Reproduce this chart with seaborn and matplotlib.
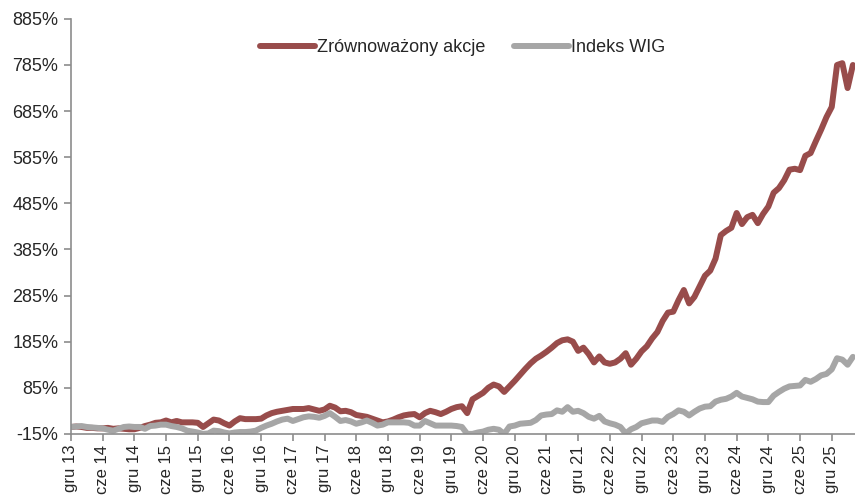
import matplotlib
matplotlib.use("Agg")
import matplotlib.pyplot as plt
import seaborn as sns
import pandas as pd

# monthly values, index 0 = grudzien 2013
zrownowazony = [
    0, 1, 0, -2, -2, -3, -3, -2, -4, -3, -4, -5, -5, -2, 2, 5, 9, 10, 14, 10,
    13, 10, 10, 10, 9, 0, 8, 16, 14, 8, 3, 12, 19, 17, 17, 17, 18, 25, 30, 33,
    35, 37, 39, 39, 39, 41, 38, 35, 38, 46, 42, 34, 35, 32, 26, 24, 22, 18, 14, 10,
    12, 16, 21, 25, 27, 28, 21, 30, 35, 32, 28, 33, 39, 43, 45, 30, 60, 67, 74, 85,
    92, 88, 76, 88, 100, 113, 126, 138, 148, 155, 163, 172, 182, 188, 190, 185, 165, 172, 158, 140,
    153, 140, 137, 140, 148, 160, 135, 148, 164, 175, 192, 206, 230, 248, 250, 275, 297, 268, 282, 305,
    328, 339, 365, 416, 425, 432, 464, 440, 455, 460, 442, 462, 478, 508, 518, 535, 558, 560, 557, 588,
    594, 620, 645, 672, 694, 785, 789, 735, 785,
]
wig = [
    0, 1, 2, 0, -1, -2, -3, -6, -8, -4, 0, 1, 0, 0, -4, 2, 3, 5, 5, 2,
    0, -3, -8, -10, -12, -15, -14, -8, -9, -12, -14, -12, -11, -11, -10, -8, -2, 3, 7, 12,
    16, 18, 13, 17, 21, 23, 22, 20, 24, 30, 22, 13, 15, 12, 7, 10, 14, 9, 3, 5,
    10, 10, 10, 10, 9, 3, 3, 13, 8, 3, 3, 3, 3, 2, 0, -15, -15, -12, -10, -6,
    -4, -6, -15, 1, 3, 7, 8, 9, 15, 25, 27, 28, 36, 33, 43, 33, 35, 30, 22, 18,
    24, 12, 8, 5, 0, -14, -5, 0, 8, 11, 14, 14, 11, 22, 28, 36, 33, 25, 33, 40,
    44, 45, 55, 59, 61, 66, 74, 66, 63, 60, 55, 54, 54, 68, 76, 83, 88, 89, 90, 102,
    98, 104, 112, 115, 125, 149, 146, 135, 152,
]
tick_labels = [
    "gru 13", "cze 14", "gru 14", "cze 15", "gru 15", "cze 16", "gru 16",
    "cze 17", "gru 17", "cze 18", "gru 18", "cze 19", "gru 19", "cze 20",
    "gru 20", "cze 21", "gru 21", "cze 22", "gru 22", "cze 23", "gru 23",
    "cze 24", "gru 24", "cze 25", "gru 25",
]
y_ticks = [-15, 85, 185, 285, 385, 485, 585, 685, 785, 885]

df = pd.DataFrame({
    "miesiac": list(range(len(zrownowazony))) * 2,
    "wartosc": zrownowazony + wig,
    "seria": ["Zrównoważony akcje"] * len(zrownowazony) + ["Indeks WIG"] * len(wig),
})

sns.set_style("white")
plt.rcParams["font.family"] = ["Liberation Sans Narrow", "Liberation Sans", "DejaVu Sans"]

fig = plt.figure(figsize=(8.55, 4.97), dpi=100)
ax = fig.add_axes([0.083, 0.127, 0.917, 0.835])

sns.lineplot(
    data=df, x="miesiac", y="wartosc", hue="seria",
    palette={"Zrównoważony akcje": "#984c4b", "Indeks WIG": "#a6a6a6"},
    linewidth=4.3, ax=ax, legend=True,
)

ax.set_xlim(0, 148.4)
ax.set_ylim(-15, 885)
ax.set_yticks(y_ticks)
ax.set_yticklabels([f"{v}%" for v in y_ticks])
ax.set_xticks(range(0, 6 * len(tick_labels), 6))
ax.set_xticklabels(tick_labels, rotation=90)
ax.set_xlabel("")
ax.set_ylabel("")

for side in ["top", "right"]:
    ax.spines[side].set_visible(False)
for side in ["left", "bottom"]:
    ax.spines[side].set_color("#8c8c8c")
    ax.spines[side].set_linewidth(1.2)
ax.tick_params(axis="both", direction="out", length=5, width=1.2, color="#8c8c8c",
               labelcolor="#262626", bottom=True, left=True)
ax.tick_params(axis="y", labelsize=13, pad=4)
ax.tick_params(axis="x", labelsize=12, pad=3)

ax.legend(
    loc="upper center", bbox_to_anchor=(0.5, 0.99), ncol=2, frameon=False,
    fontsize=13, handlelength=3, handletextpad=0.15, columnspacing=1.6,
)

plt.savefig("out.png", dpi=100)
